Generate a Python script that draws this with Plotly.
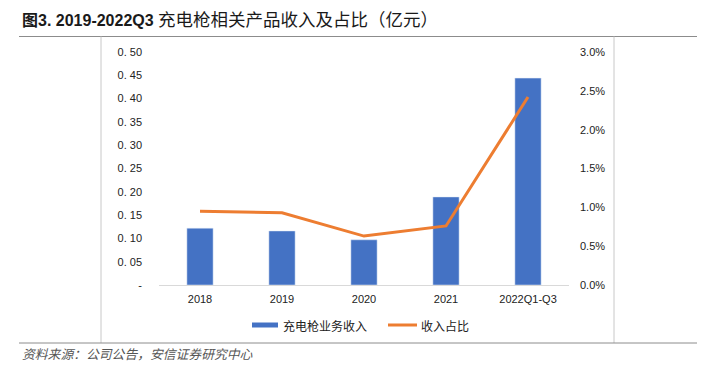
import plotly.graph_objects as go

categories = ["2018", "2019", "2020", "2021", "2022Q1-Q3"]
revenue = [0.122, 0.116, 0.097, 0.189, 0.444]
share = [0.0095, 0.0093, 0.0063, 0.0076, 0.0242]
left_ticks = [0, 0.05, 0.10, 0.15, 0.20, 0.25, 0.30, 0.35, 0.40, 0.45, 0.50]
left_labels = ["-", "0. 05", "0. 10", "0. 15", "0. 20", "0. 25", "0. 30", "0. 35", "0. 40", "0. 45", "0. 50"]
right_ticks = [0, 0.005, 0.010, 0.015, 0.020, 0.025, 0.030]
right_labels = ["0.0%", "0.5%", "1.0%", "1.5%", "2.0%", "2.5%", "3.0%"]
series_names = ["充电枪业务收入", "收入占比"]

W, H = 721, 365
L, R, T, B = 159, 152, 52, 80
PW = W - L - R
PH = H - T - B


def px(x):
    return (x - L) / PW


def py(y):
    return (H - B - y) / PH


cjk = "Noto Sans CJK SC"
tickfont = dict(family="Liberation Sans, Arial", size=11, color="#222")
BLUE, ORANGE = "#4472C4", "#ED7D31"

fig = go.Figure()
fig.add_trace(go.Bar(x=categories, y=revenue, name=series_names[0],
                     marker=dict(color=BLUE), width=0.32, showlegend=False))
fig.add_trace(go.Scatter(x=categories, y=share, name=series_names[1], yaxis="y2",
                         mode="lines", line=dict(color=ORANGE, width=3), showlegend=False))

shapes = [
    dict(type="line", xref="paper", yref="paper", x0=px(19), x1=px(697), y0=py(36.5), y1=py(36.5),
         line=dict(color="#8c8c8c", width=1.2)),
    dict(type="line", xref="paper", yref="paper", x0=px(101), x1=px(101), y0=py(36.5), y1=py(343),
         line=dict(color="#c8c8c8", width=1)),
    dict(type="line", xref="paper", yref="paper", x0=px(614), x1=px(614), y0=py(36.5), y1=py(343),
         line=dict(color="#c8c8c8", width=1)),
    dict(type="line", xref="paper", yref="paper", x0=px(19), x1=px(697), y0=py(343), y1=py(343),
         line=dict(color="#8c8c8c", width=1)),
    # legend swatches
    dict(type="rect", xref="paper", yref="paper", x0=px(252), x1=px(278), y0=py(327.5), y1=py(322.5),
         fillcolor=BLUE, line=dict(width=0)),
    dict(type="line", xref="paper", yref="paper", x0=px(388), x1=px(417), y0=py(325), y1=py(325),
         line=dict(color=ORANGE, width=3)),
]

annotations = [
    dict(xref="paper", yref="paper", x=px(20), y=py(20), xanchor="left", yanchor="middle",
         text="<b>图3. 2019-2022Q3</b> <span style=\"font-size:17.5px\">充电枪相关产品收入及占比（亿元）</span>",
         showarrow=False,
         font=dict(family="Liberation Sans, " + cjk, size=16, color="#1a1a1a")),
    dict(xref="paper", yref="paper", x=px(20), y=py(353), xanchor="left", yanchor="middle",
         text="<i>资料来源：公司公告，安信证券研究中心</i>", showarrow=False,
         font=dict(family=cjk, size=12.8, color="#555")),
    dict(xref="paper", yref="paper", x=px(281), y=py(325), xanchor="left", yanchor="middle",
         text=series_names[0], showarrow=False,
         font=dict(family=cjk, size=12, color="#222")),
    dict(xref="paper", yref="paper", x=px(419), y=py(325), xanchor="left", yanchor="middle",
         text=series_names[1], showarrow=False,
         font=dict(family=cjk, size=12, color="#222")),
]

fig.update_layout(
    width=W, height=H,
    margin=dict(l=L, r=R, t=T, b=B),
    paper_bgcolor="white", plot_bgcolor="white",
    showlegend=False,
    bargap=0.68,
    xaxis=dict(showline=True, linecolor="#d9d9d9", linewidth=1, ticks="", showgrid=False,
               tickfont=tickfont, ticklabelstandoff=4),
    yaxis=dict(range=[0, 0.5], tickvals=left_ticks, ticktext=left_labels, showgrid=False,
               zeroline=False, showline=False, tickfont=tickfont, ticklabelstandoff=16),
    yaxis2=dict(range=[0, 0.03], tickvals=right_ticks, ticktext=right_labels, overlaying="y",
                side="right", showgrid=False, zeroline=False, showline=False, tickfont=tickfont,
                ticklabelstandoff=10),
    shapes=shapes,
    annotations=annotations,
)

fig.write_html("out.html", config={"displayModeBar": False},
               post_script="document.body.style.margin='0';")
